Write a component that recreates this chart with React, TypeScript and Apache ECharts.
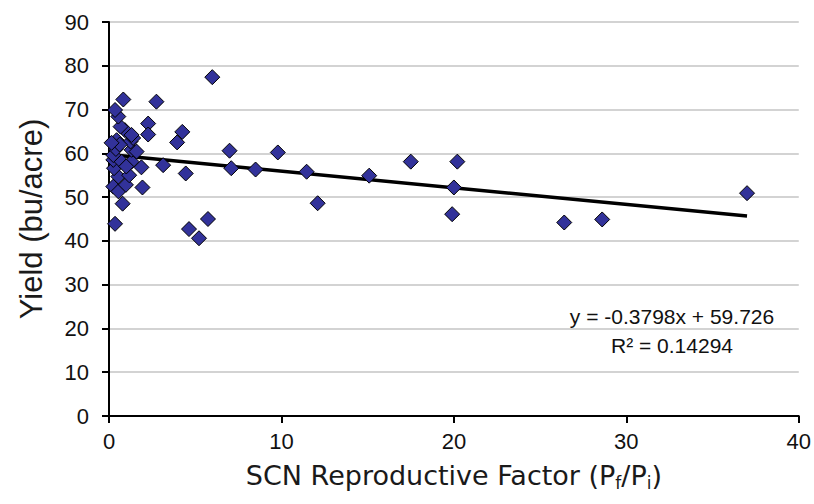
import React, { useEffect, useRef } from "react";
import * as echarts from "echarts";

const rfValues: number[] = [
  0.35, 0.25, 0.55, 0.79, 0.98, 1.94, 0.54, 1.17, 0.29, 1.88,
  0.25, 0.73, 1.31, 0.25, 0.4, 1.31, 1.6, 0.44, 1.25, 1.4,
  0.92, 1.31, 0.67, 0.54, 0.35, 0.83, 2.27, 2.27, 2.75, 3.14,
  3.95, 4.25, 4.45, 4.64, 5.22, 5.74, 5.99, 6.99, 7.09, 8.5,
  9.79, 11.46, 12.1, 15.09, 17.5, 20.2, 20.0, 19.9, 26.4, 28.6,
  37.0, 0.62, 1.0, 0.15,
];
const yieldValues: number[] = [
  43.9, 52.4, 51.3, 48.5, 52.8, 52.2, 54.7, 55.0, 56.6, 56.8,
  58.5, 58.1, 58.1, 59.6, 61.0, 60.8, 60.4, 63.0, 62.7, 63.5,
  65.3, 64.2, 66.1, 68.4, 69.9, 72.3, 66.8, 64.3, 71.8, 57.3,
  62.5, 64.9, 55.4, 42.7, 40.6, 45.0, 77.4, 60.6, 56.6, 56.3,
  60.2, 55.8, 48.6, 54.9, 58.1, 58.1, 52.2, 46.1, 44.2, 44.9,
  50.9, 62.0, 57.0, 62.4,
];
const trendSlope = -0.3798;
const trendIntercept = 59.726;
const trendXRange: number[] = [0, 37];
const equationText = "y = -0.3798x + 59.726";
const r2Text = "R² = 0.14294";
const xTitle = "SCN Reproductive Factor (P{sub|f}/P{sub|i})";
const yTitle = "Yield (bu/acre)";

export default function App() {
  const ref = useRef<HTMLDivElement>(null);
  useEffect(() => {
    if (!ref.current) return;
    document.body.style.margin = "0";
    const chart = echarts.init(ref.current, null, { renderer: "svg" });
    const points = rfValues.map((x, i) => [x, yieldValues[i]]);
    const trend = trendXRange.map((x) => [x, trendSlope * x + trendIntercept]);
    chart.setOption({
      animation: false,
      backgroundColor: "#ffffff",
      grid: { left: 109, right: 13, top: 22, bottom: 88 },
      xAxis: {
        type: "value",
        min: 0,
        max: 40,
        interval: 10,
        name: xTitle,
        nameLocation: "middle",
        nameGap: 44,
        nameTextStyle: {
          fontFamily: "DejaVu Sans",
          fontSize: 27,
          color: "#1a1a1a",
          rich: {
            sub: { fontFamily: "DejaVu Sans", fontSize: 17, color: "#1a1a1a", padding: [14, 0, 0, 0] },
          },
        },
        axisLine: { show: true, lineStyle: { color: "#000", width: 2 } },
        axisTick: { show: true, length: 7, lineStyle: { color: "#000", width: 2 } },
        axisLabel: { fontFamily: "Liberation Sans", fontSize: 22, color: "#111", margin: 14 },
        splitLine: { show: false },
      },
      yAxis: {
        type: "value",
        min: 0,
        max: 90,
        interval: 10,
        name: yTitle,
        nameLocation: "middle",
        nameGap: 62,
        nameTextStyle: { fontFamily: "Liberation Sans", fontSize: 31, color: "#1a1a1a" },
        axisLine: { show: true, lineStyle: { color: "#000", width: 2 } },
        axisTick: { show: true, length: 7, lineStyle: { color: "#000", width: 2 } },
        axisLabel: { fontFamily: "Liberation Sans", fontSize: 22, color: "#111", margin: 20 },
        splitLine: { show: true, lineStyle: { color: "#c4c4c4", width: 1.5 } },
      },
      series: [
        {
          type: "line",
          data: trend,
          symbol: "none",
          lineStyle: { color: "#000", width: 3.5 },
          z: 3,
        },
        {
          type: "scatter",
          data: points,
          symbol: "diamond",
          symbolSize: 15,
          itemStyle: { color: "#32329a", borderColor: "#000", borderWidth: 1, opacity: 1 },
          z: 4,
        },
      ],
      graphic: [
        {
          type: "text",
          x: 672,
          y: 316,
          style: {
            text: equationText,
            fontFamily: "Liberation Sans",
            fontSize: 21,
            fill: "#111",
            align: "center",
            verticalAlign: "middle",
          },
        },
        {
          type: "text",
          x: 672,
          y: 345,
          style: {
            text: r2Text,
            fontFamily: "Liberation Sans",
            fontSize: 21,
            fill: "#111",
            align: "center",
            verticalAlign: "middle",
          },
        },
      ],
    });
    return () => chart.dispose();
  }, []);
  return <div ref={ref} style={{ width: 814, height: 504 }} />;
}
